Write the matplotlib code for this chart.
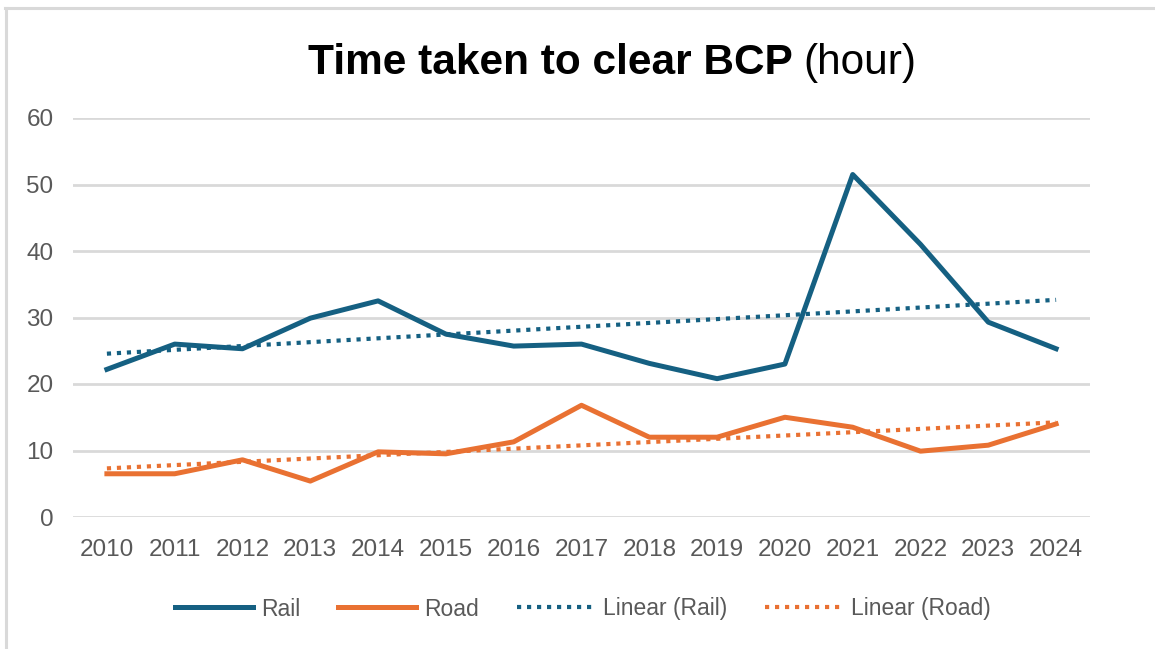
import numpy as np
import matplotlib
matplotlib.use("Agg")
import matplotlib.pyplot as plt
from matplotlib.lines import Line2D

years = ["2010", "2011", "2012", "2013", "2014", "2015", "2016", "2017",
         "2018", "2019", "2020", "2021", "2022", "2023", "2024"]
rail = [22.2, 26.0, 25.3, 29.9, 32.5, 27.5, 25.7, 26.0, 23.1, 20.8, 23.0, 51.5, 41.0, 29.3, 25.3]
road = [6.5, 6.5, 8.6, 5.4, 9.8, 9.5, 11.3, 16.8, 12.0, 12.0, 15.0, 13.5, 9.9, 10.8, 14.0]
yticks = [0, 10, 20, 30, 40, 50, 60]

RAIL_C = "#156082"
ROAD_C = "#E97132"
GRID_C = "#D9D9D9"
TEXT_C = "#595959"
FONT = "Liberation Sans"

plt.rcParams["font.family"] = [FONT, "DejaVu Sans"]

fig = plt.figure(figsize=(11.55, 6.49), dpi=100)
W, H = 1155, 649
ax = fig.add_axes([73 / W, 1 - 517 / H, (1090 - 73) / W, (517 - 118) / H])

x = np.arange(len(years))
rail_fit = np.polyval(np.polyfit(x, rail, 1), x)
road_fit = np.polyval(np.polyfit(x, road, 1), x)

dot = (0, (1.0, 1.4))
ax.plot(x, rail_fit, color=RAIL_C, lw=3.0, linestyle=dot, dash_capstyle="butt", zorder=3)
ax.plot(x, road_fit, color=ROAD_C, lw=3.0, linestyle=dot, dash_capstyle="butt", zorder=3)
ax.plot(x, rail, color=RAIL_C, lw=3.6, solid_joinstyle="round", zorder=4)
ax.plot(x, road, color=ROAD_C, lw=3.6, solid_joinstyle="round", zorder=4)

ax.set_xlim(-0.5, len(years) - 0.5)
ax.set_ylim(0, 60)
ax.set_yticks(yticks)
ax.set_xticks(x)
ax.set_xticklabels(years)
ax.yaxis.grid(True, color=GRID_C, lw=2.0)
ax.set_axisbelow(True)
for s in ax.spines.values():
    s.set_visible(False)
ax.tick_params(axis="both", length=0, labelsize=17.5, labelcolor=TEXT_C)
ax.tick_params(axis="x", pad=16)
ax.tick_params(axis="y", pad=14)

# Title (bold + regular parts), centred
fig.canvas.draw()
r = fig.canvas.get_renderer()
t1 = fig.text(0, 1 - 74 / H, "Time taken to clear BCP ", fontsize=30.5, fontweight="bold",
              color="black", va="baseline", ha="left")
t2 = fig.text(0, 1 - 74 / H, "(hour)", fontsize=30.5, color="black", va="baseline", ha="left")
w1 = t1.get_window_extent(r).width
w2 = t2.get_window_extent(r).width
cx = 612
x0 = cx - (w1 + w2) / 2
t1.set_x(x0 / W)
t2.set_x((x0 + w1) / W)

# Legend
handles = [
    Line2D([], [], color=RAIL_C, lw=3.6),
    Line2D([], [], color=ROAD_C, lw=3.6),
    Line2D([], [], color=RAIL_C, lw=3.0, linestyle=dot, dash_capstyle="butt"),
    Line2D([], [], color=ROAD_C, lw=3.0, linestyle=dot, dash_capstyle="butt"),
]
labels = ["Rail", "Road", "Linear (Rail)", "Linear (Road)"]
fig.legend(handles, labels, loc="center", bbox_to_anchor=(583 / W, 1 - 609 / H), ncol=4,
           frameon=False, fontsize=16.5, labelcolor=TEXT_C, handlelength=3.4,
           handletextpad=0.35, columnspacing=1.65)

# Outer frame lines (left and top)
fig.add_artist(Line2D([5.5 / W, 5.5 / W], [0, 1 - 7.5 / H], color=GRID_C, lw=2.2,
                      transform=fig.transFigure))
fig.add_artist(Line2D([4.5 / W, 1], [1 - 7.5 / H, 1 - 7.5 / H], color=GRID_C, lw=2.2,
                      transform=fig.transFigure))

fig.savefig("out.png", dpi=100, facecolor="white")
